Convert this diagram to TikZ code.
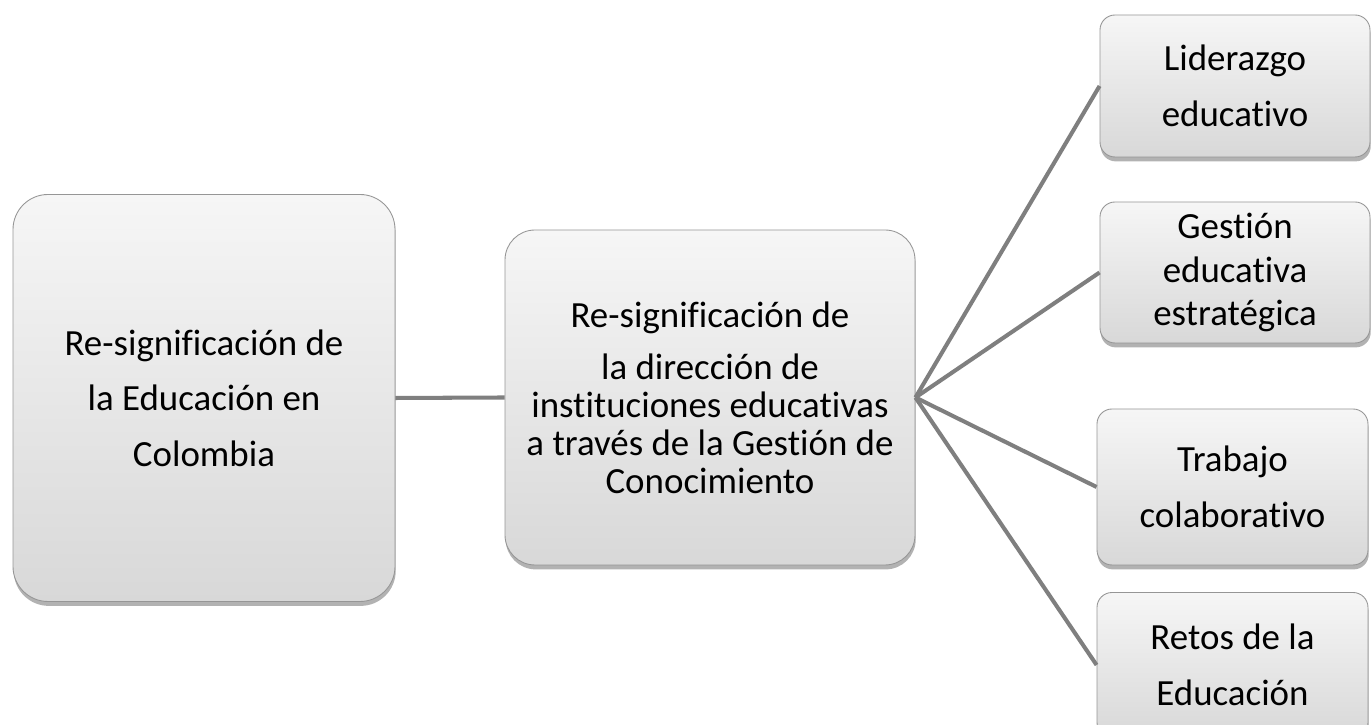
\documentclass[tikz,border=0pt]{standalone}
\usepackage{fontspec}
\setmainfont[Ligatures={NoCommon,TeX}]{Carlito}
\usetikzlibrary{shadows}
\definecolor{lineagris}{RGB}{127,127,127}
\definecolor{bordegris}{RGB}{150,150,150}
\definecolor{arribagris}{RGB}{246,246,246}
\definecolor{abajogris}{RGB}{216,216,216}

\begin{document}
\begin{tikzpicture}[
    caja/.style={draw=bordegris, line width=0.5pt, top color=arribagris, bottom color=abajogris,
        align=center, font=\fontsize{21}{21.6}\selectfont, inner sep=0pt,
        drop shadow={shadow xshift=0.4pt, shadow yshift=-2.5pt, fill=black, opacity=0.3}},
    rama/.style={draw=lineagris, line width=2.3pt}
  ]
    \clip (0,0) rectangle (27.44,14.5);

    \node[caja, rounded corners=0.7cm, minimum width=7.64cm, minimum height=8.14cm] (izq) at (4.08,6.54)
        {Re-significación de\\[10pt] la Educación en\\[10pt] Colombia};
    \node[caja, rounded corners=0.6cm, minimum width=8.2cm, minimum height=6.7cm] (centro) at (14.2,6.55)
        {Re-significación de\\[8pt] la dirección de\\ instituciones educativas\\ a través de la Gestión de\\ Conocimiento};

    \node[caja, rounded corners=0.3cm, minimum width=5.4cm, minimum height=2.84cm] (lider) at (24.7,12.78)
        {Liderazgo\\[10pt] educativo};
    \node[caja, rounded corners=0.3cm, minimum width=5.4cm, minimum height=2.82cm] (gestion) at (24.7,9.05)
        {Gestión\\[3pt] educativa\\[3pt] estratégica};
    \node[caja, rounded corners=0.3cm, minimum width=5.42cm, minimum height=3.12cm] (trabajo) at (24.65,4.76)
        {Trabajo\\[10pt] colaborativo};
    \node[caja, rounded corners=0.3cm, minimum width=5.42cm, minimum height=2.9cm] (retos) at (24.65,1.2)
        {Retos de la\\[10pt] Educación};

    % conectores
    \draw[rama] (izq.east) -- (centro.west);
    \foreach \destino in {lider,gestion,trabajo,retos}
        \draw[rama] (centro.east) -- (\destino.west);
\end{tikzpicture}
\end{document}
